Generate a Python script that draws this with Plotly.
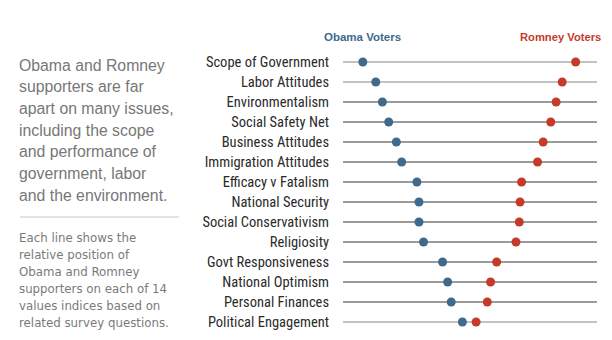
import plotly.graph_objects as go

categories = ["Scope of Government", "Labor Attitudes", "Environmentalism", "Social Safety Net",
              "Business Attitudes", "Immigration Attitudes", "Efficacy v Fatalism", "National Security",
              "Social Conservativism", "Religiosity", "Govt Responsiveness", "National Optimism",
              "Personal Finances", "Political Engagement"]
obama = [7.8, 12.9, 15.5, 18.0, 21.0, 23.1, 29.1, 29.9, 29.9, 31.7, 39.2, 41.2, 42.6, 47.0]
romney = [91.6, 86.3, 83.9, 81.8, 78.8, 76.6, 70.3, 69.7, 69.4, 68.1, 60.5, 58.1, 56.8, 52.4]
highlight = [True, True, False, False, False, False, False, False, False, False, False, False, False, True]
scale_min, scale_max = 0, 100

BLUE = "#3f6a8c"
RED = "#c43b2a"
FONT_COND = "Liberation Sans Narrow, Arial Narrow, Roboto Condensed, sans-serif"

ys = list(range(len(categories)))

fig = go.Figure()

light_x, light_y, dark_x, dark_y = [], [], [], []
for i, h in enumerate(highlight):
    if h:
        light_x += [scale_min, scale_max, None]
        light_y += [i, i, None]
    else:
        dark_x += [scale_min, scale_max, None]
        dark_y += [i, i, None]

fig.add_trace(go.Scatter(x=light_x, y=light_y, mode="lines",
                         line=dict(color="#c2c2c2", width=2.2), hoverinfo="skip", showlegend=False))
fig.add_trace(go.Scatter(x=dark_x, y=dark_y, mode="lines",
                         line=dict(color="#7a7a7a", width=1.4), hoverinfo="skip", showlegend=False))
fig.add_trace(go.Scatter(x=obama, y=ys, mode="markers", name="Obama Voters",
                         marker=dict(color=BLUE, size=9), cliponaxis=False, showlegend=False))
fig.add_trace(go.Scatter(x=romney, y=ys, mode="markers", name="Romney Voters",
                         marker=dict(color=RED, size=9), cliponaxis=False, showlegend=False))

fig.update_layout(
    width=612, height=340,
    margin=dict(l=343, r=15, t=52, b=8),
    paper_bgcolor="white", plot_bgcolor="white",
    xaxis=dict(range=[scale_min, scale_max], visible=False, fixedrange=True),
    yaxis=dict(range=[len(categories) - 0.5, -0.5], tickmode="array", tickvals=ys, ticktext=categories,
               showgrid=False, zeroline=False, showline=False, ticks="", ticklabelstandoff=13,
               tickfont=dict(family=FONT_COND, size=14.5, color="#2a2a2a"), fixedrange=True),
    annotations=[
        dict(text="<b>Obama Voters</b>", xref="x", yref="paper", x=obama[0], y=1, yshift=15,
             xanchor="center", yanchor="middle", showarrow=False,
             font=dict(family="Liberation Sans, Arial, sans-serif", size=11.5, color=BLUE)),
        dict(text="<b>Romney Voters</b>", xref="paper", yref="paper", x=1, y=1, xshift=6, yshift=15,
             xanchor="right", yanchor="middle", showarrow=False,
             font=dict(family="Liberation Sans, Arial, sans-serif", size=11.2, color=RED)),
    ],
)

big_text = ["Obama and Romney", "supporters are far", "apart on many issues,", "including the scope",
            "and performance of", "government, labor", "and the environment."]
small_text = ["Each line shows the", "relative position of", "Obama and Romney",
              "supporters on each of 14", "values indices based on", "related survey questions."]

for k, line in enumerate(big_text):
    fig.add_annotation(text=line, xref="paper", yref="paper", x=0, xshift=-343 + 17,
                       y=1, yshift=52 - 65 - 21.7 * k, xanchor="left", yanchor="middle",
                       showarrow=False,
                       font=dict(family="Liberation Sans, Arial, sans-serif", size=15.8, color="#777777"))
for k, line in enumerate(small_text):
    fig.add_annotation(text=line, xref="paper", yref="paper", x=0, xshift=-343 + 17,
                       y=1, yshift=52 - 238 - 17 * k, xanchor="left", yanchor="middle",
                       showarrow=False,
                       font=dict(family="DejaVu Sans, sans-serif", size=11.8, color="#7a7a7a"))

# separator rule between the two text blocks (paper coords derived from pixel layout)
plot_w = 612 - 343 - 15
plot_h = 340 - 52 - 8
fig.add_shape(type="line", xref="paper", yref="paper",
              x0=(20 - 343) / plot_w, x1=(179 - 343) / plot_w,
              y0=(340 - 8 - 217) / plot_h, y1=(340 - 8 - 217) / plot_h,
              line=dict(color="#c8c8c8", width=1))
fig.write_html("out.html")
